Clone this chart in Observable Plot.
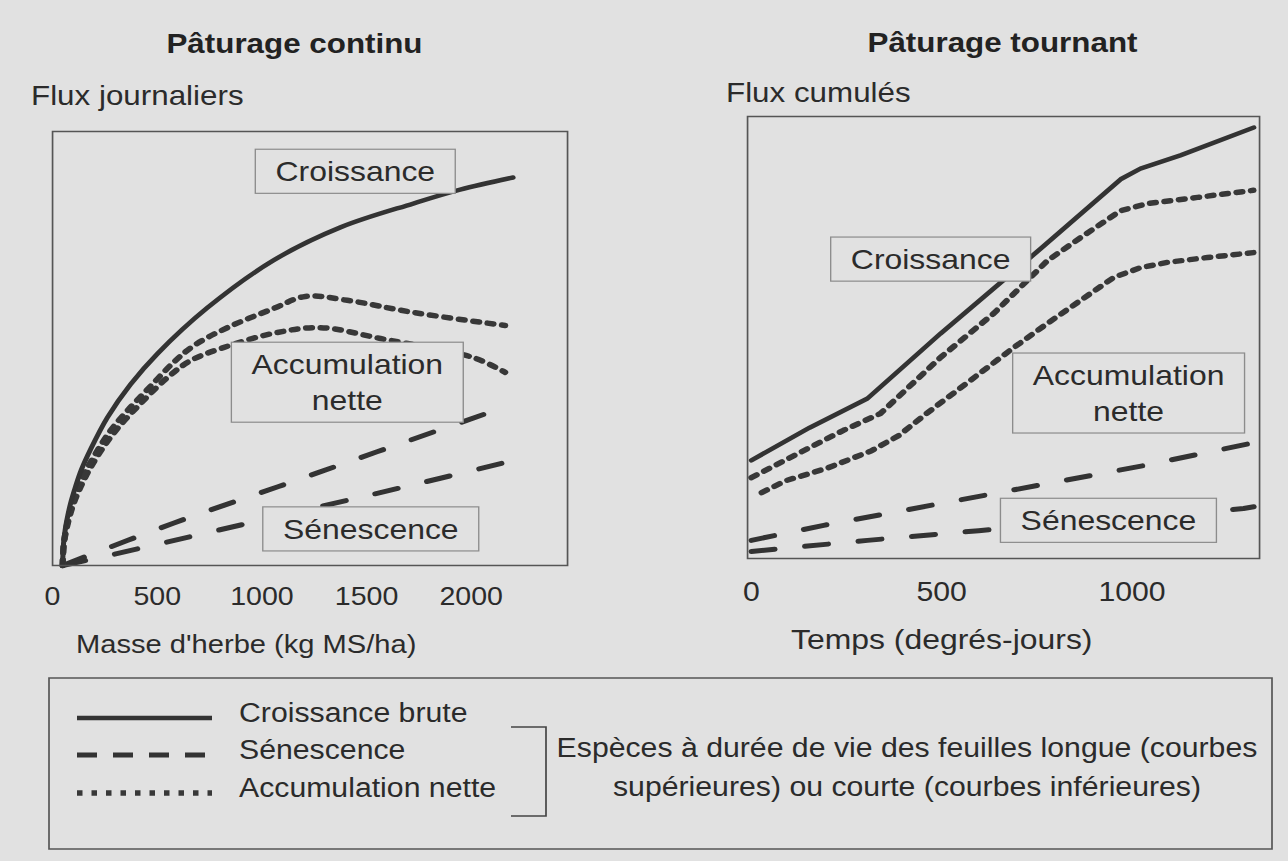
<!DOCTYPE html>
<html><head><meta charset="utf-8">
<script src="https://cdn.jsdelivr.net/npm/d3@7"></script>
<script src="https://cdn.jsdelivr.net/npm/@observablehq/plot@0.6"></script>
<style>
html,body{margin:0;padding:0;background:#e1e1e1;overflow:hidden;}
#page{position:relative;width:1150px;height:861px;transform:scaleX(1.12);transform-origin:0 0;font-family:"Liberation Sans",Arial,sans-serif;color:#2b2b2b;}
#page svg{position:absolute;}
</style></head><body><div id="page"></div>
<script>
// ---------- data (x, y in chart units) ----------
// Pâturage continu : flux journaliers vs masse d'herbe (kg MS/ha)
const contTicks = [0, 500, 1000, 1500, 2000];
const contCroissance = [[48,0],[52.5,5.1],[60,8.1],[67,10.1],[86,14.3],[110,18.2],[138,22.1],[181,26.7],[262,34.1],[372,41.7],[501,48.8],[740,59.4],[1055,70.3],[1375,77.9],[1723,83.4],[1947,86.6],[2200,89.4]];
const contAccLongue = [[48,0],[54,5.1],[72,10.1],[95,14.3],[126,18.2],[163,22.1],[217,26.7],[277,31.1],[358,35.7],[468,41.3],[578,46.8],[673,50.6],[835,54.8],[1055,59.2],[1208,62.0],[1408,61.1],[1723,58.3],[2162,55.3]];
const contAccCourte = [[48,0],[54.5,5.1],[75,10.1],[101,14.3],[135,18.2],[176,22.1],[235,26.7],[302,31.1],[420,37.3],[549,43.3],[659,47.2],[816,50.2],[1055,53.5],[1279,54.8],[1566,52.3],[2010,47.9],[2162,44.5]];
const contSenLongue = [[48,0],[580,9.8],[1080,18.2],[1550,26.2],[2160,36.5]];
const contSenCourte = [[48,0],[240,2.0],[931,9.7],[1671,18.0],[2160,23.7]];
const contLabels = [
  {label: "Croissance", x: 1446, y: 91.2},
  {label: "Accumulation\nnette", x: 1408, y: 42.6},
  {label: "Sénescence", x: 1520, y: 8.8}
];
// Pâturage tournant : flux cumulés vs temps (degrés-jours)
const rotTicks = [0, 500, 1000];
const rotCroissance = [[0,22.2],[153,29.6],[305,36.2],[497,50.9],[760,70.1],[970,85.8],[1022,88.2],[1127,91.2],[1320,97.5]];
const rotAccLongue = [[0,18.3],[153,25.1],[242,29.0],[339,32.8],[497,45.5],[636,55.4],[778,67.4],[865,72.6],[970,78.7],[1041,80.3],[1172,81.7],[1319,83.3]];
const rotAccCourte = [[27,14.9],[90,17.6],[198,20.4],[316,24.4],[387,27.8],[460,32.8],[568,39.8],[689,47.7],[778,53.2],[865,58.4],[952,63.6],[1022,65.8],[1093,67.0],[1198,68.1],[1319,69.2]];
const rotSenLongue = [[0,4.1],[190,7.5],[613,14.3],[1030,21.0],[1320,26.2]];
const rotSenCourte = [[0,1.6],[305,4.1],[597,6.3],[1293,11.3],[1320,11.7]];
const rotLabels = [
  {label: "Croissance", x: 471, y: 68.1},
  {label: "Accumulation\nnette", x: 991, y: 37.8},
  {label: "Sénescence", x: 938, y: 9.0}
];
// legend
const legendItems = ["Croissance brute", "Sénescence", "Accumulation nette"];
const legendNote = ["Espèces à durée de vie des feuilles longue (courbes", "supérieures) ou courte (courbes inférieures)"];
const titles = ["Pâturage continu", "Pâturage tournant"];
const yTitles = ["Flux journaliers", "Flux cumulés"];
const xTitles = ["Masse d'herbe (kg MS/ha)", "Temps (degrés-jours)"];

// ---------- styles ----------
const S = 1.12;            // horizontal stretch of the scanned figure
const X = v => v / S;
const BG = "#e1e1e1";
const INK = "#333333";
const FONT = '"Liberation Sans", Arial, sans-serif';
const solid = {stroke: INK, strokeWidth: 4.5};
const dashed = {stroke: INK, strokeWidth: 5, strokeDasharray: "21,27"};
const dotted = {stroke: "#383838", strokeWidth: 5.5, strokeDasharray: "5.5,7.5"};

const page = document.getElementById("page");

function panel(o) {
  const xy = {x: d => d[0], y: d => d[1], curve: o.curve};
  const p = Plot.plot({
    width: o.width, height: o.height,
    marginLeft: o.ml, marginRight: o.mr, marginTop: o.mt, marginBottom: o.mb,
    x: {domain: o.xdomain, ticks: o.ticks, tickFormat: d => String(d), tickSize: 0, tickPadding: o.tp, label: null},
    y: {domain: [0, 100], axis: null},
    style: {background: "transparent", fontFamily: FONT, fontSize: o.fs + "px", color: "#2b2b2b", overflow: "visible"},
    marks: [
      Plot.line(o.senC, {...xy, ...dashed}),
      Plot.line(o.senL, {...xy, ...dashed}),
      Plot.line(o.accC, {...xy, ...dotted}),
      Plot.line(o.accL, {...xy, ...dotted}),
      Plot.line(o.cro, {...xy, ...solid}),
      Plot.text(o.labels, {x: "x", y: "y", text: "label", fontSize: 28.5, lineHeight: 1.26, fill: "#2b2b2b"}),
      Plot.frame({stroke: "#555", strokeWidth: 1.5})
    ]
  });
  p.style.left = o.left + "px";
  p.style.top = o.top + "px";
  page.appendChild(p);
  // boxes behind annotation labels
  p.querySelectorAll('g[aria-label="text"] text').forEach(t => {
    const b = t.getBBox();
    const r = document.createElementNS("http://www.w3.org/2000/svg", "rect");
    const padX = 18, padY = 6.5;
    r.setAttribute("x", b.x - padX);
    r.setAttribute("y", b.y - padY);
    r.setAttribute("width", b.width + 2 * padX);
    r.setAttribute("height", b.height + 2 * padY);
    r.setAttribute("fill", BG);
    r.setAttribute("stroke", "#8c8c8c");
    r.setAttribute("stroke-width", "1.2");
    if (t.getAttribute("transform")) r.setAttribute("transform", t.getAttribute("transform"));
    t.parentNode.insertBefore(r, t);
  });
}

panel({left: X(0), top: 120, width: X(620), height: 560, ml: X(52), mr: X(53), mt: 11, mb: 115, tp: 21, fs: 25.5,
  curve: "catmull-rom", xdomain: [0, 2460], ticks: contTicks,
  cro: contCroissance, accL: contAccLongue, accC: contAccCourte, senL: contSenLongue, senC: contSenCourte, labels: contLabels});
panel({left: X(700), top: 100, width: X(588), height: 580, ml: X(47), mr: X(29), mt: 16, mb: 122, tp: 23, fs: 27,
  curve: "linear", xdomain: [-10, 1335], ticks: rotTicks,
  cro: rotCroissance, accL: rotAccLongue, accC: rotAccCourte, senL: rotSenLongue, senC: rotSenCourte, labels: rotLabels});

// ---------- titles, axis titles and legend ----------
const swY = [718, 755, 793];
const txY = [722, 759, 797];
const swStyle = [
  `stroke="${INK}" stroke-width="4.5"`,
  `stroke="${INK}" stroke-width="5" stroke-dasharray="${X(20)},${X(16)}"`,
  `stroke="#383838" stroke-width="5.5" stroke-dasharray="${X(5.5)},${X(9)}"`
];
let legend = "";
legendItems.forEach((s, i) => {
  legend += `<line x1="${X(77)}" x2="${X(212)}" y1="${swY[i]}" y2="${swY[i]}" ${swStyle[i]}/>`;
  legend += `<text x="${X(239)}" y="${txY[i]}" font-size="27">${s}</text>`;
});
legendNote.forEach((s, i) => {
  legend += `<text x="${X(907)}" y="${[757, 796][i]}" font-size="27" text-anchor="middle">${s}</text>`;
});
const ov = `<svg width="${X(1288)}" height="861" style="left:0;top:0;font-family:${FONT.replace(/"/g, "'")};fill:#2b2b2b">
<text x="${X(294.5)}" y="53" text-anchor="middle" font-weight="bold" font-size="28" fill="#222">${titles[0]}</text>
<text x="${X(1002.5)}" y="52" text-anchor="middle" font-weight="bold" font-size="28" fill="#222">${titles[1]}</text>
<text x="${X(31)}" y="105" font-size="28">${yTitles[0]}</text>
<text x="${X(726)}" y="102" font-size="28">${yTitles[1]}</text>
<text x="${X(76)}" y="653" font-size="26">${xTitles[0]}</text>
<text x="${X(791)}" y="649" font-size="28.5">${xTitles[1]}</text>
<rect x="${X(49)}" y="678" width="${X(1223)}" height="171" fill="none" stroke="#555" stroke-width="1.5"/>
<path d="M${X(511)},727H${X(546)}V816H${X(511)}" fill="none" stroke="#444" stroke-width="1.5"/>
${legend}
</svg>`;
page.insertAdjacentHTML("beforeend", ov);
</script></body></html>
